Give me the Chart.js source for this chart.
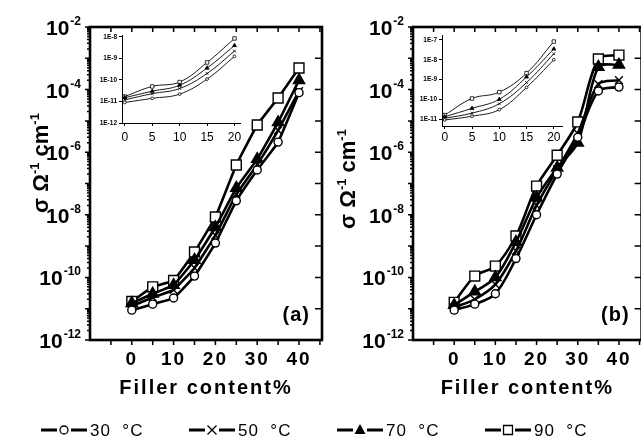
<!DOCTYPE html>
<html>
<head>
<meta charset="utf-8">
<script src="https://cdn.jsdelivr.net/npm/chart.js@4.4.0/dist/chart.umd.min.js"></script>
<style>
html, body { margin: 0; padding: 0; background: #fff; overflow: hidden; width: 641px; height: 439px; }
canvas { position: absolute; }
</style>
</head>
<body>
<canvas id="chartA" width="641" height="439" style="left:0;top:0"></canvas>
<canvas id="chartB" width="330" height="400" style="left:320px;top:0"></canvas>
<canvas id="insetA" width="156" height="120" style="left:92px;top:28px"></canvas>
<canvas id="insetB" width="160" height="122" style="left:412px;top:28px"></canvas>
<script>
const fillerContent = [0, 5, 10, 15, 20, 25, 30, 35, 40];
const xTickValues = [0, 10, 20, 30, 40];
const insetXTicks = [0, 5, 10, 15, 20];
const temperatureLabels = ['30 °C', '50 °C', '70 °C', '90 °C'];
const yLabelExponents = [-12, -10, -8, -6, -4, -2];
const insetAExponents = [-12, -11, -10, -9, -8];
const insetBExponents = [-11, -10, -9, -8, -7];

// panel (a) conductivity, S/cm
const sigmaA30 = [9e-12, 1.4e-11, 2.2e-11, 1.1e-10, 1.25e-9, 2.8e-8, 2.7e-7, 2.1e-6, 8e-5];
const sigmaA50 = [1.2e-11, 2.3e-11, 4e-11, 2e-10, 2.2e-9, 4.5e-8, 4e-7, 5e-6, 9e-5];
const sigmaA70 = [1.5e-11, 3e-11, 5.7e-11, 3.6e-10, 4e-9, 7.2e-8, 6e-7, 9e-6, 2e-4];
const sigmaA90 = [1.7e-11, 5e-11, 8e-11, 6.5e-10, 8.5e-9, 3.9e-7, 7.4e-6, 5.4e-5, 4.9e-4];

// panel (b)
const sigmaB30 = [9e-12, 1.4e-11, 3e-11, 4e-10, 1e-8, 2e-7, 3e-6, 9e-5, 1.2e-4];
const sigmaB50 = [1.1e-11, 2e-11, 6e-11, 7e-10, 2e-8, 2.8e-7, 4e-6, 1.5e-4, 2e-4];
const sigmaB70 = [1.3e-11, 3.5e-11, 1e-10, 1.35e-9, 3.5e-8, 3.2e-7, 2e-6, 5.3e-4, 6.2e-4];
const sigmaB90 = [1.6e-11, 1.1e-10, 2.3e-10, 2.1e-9, 8.3e-8, 8e-7, 9.3e-6, 9.5e-4, 1.27e-3];

const FONT = '"Liberation Sans", Arial, sans-serif';
Chart.defaults.font.family = FONT;
Chart.defaults.color = '#000';

const seriesStyle = [
    { pointStyle: 'circle', radius: 4, fill: '#fff' },
    { pointStyle: 'crossRot', radius: 5.5, fill: '#fff' },
    { pointStyle: 'triangle', radius: 6.5, fill: '#000' },
    { pointStyle: 'rect', radius: 7, fill: '#fff' }
];

function makeDatasets(seriesList, count, inset, tension) {
    return seriesList.map((values, i) => {
        const st = seriesStyle[i];
        return {
            label: temperatureLabels[i],
            data: values.slice(0, count).map((v, j) => ({ x: fillerContent[j], y: v })),
            borderColor: '#000',
            borderWidth: inset ? 0.9 : 2.6,
            pointStyle: st.pointStyle,
            pointRadius: inset ? st.radius * 0.35 : st.radius,
            pointBackgroundColor: st.fill,
            pointBorderColor: '#000',
            pointBorderWidth: inset ? 0.8 : 1.4,
            tension: tension,
            fill: false
        };
    });
}

function drawRotatedTitle(ctx, cx, cy) {
    const big = 'bold 22px ' + FONT;
    const small = 'bold 13px ' + FONT;
    const pieces = [['σ Ω', big, 0], ['-1', small, -9], [' cm', big, 0], ['-1', small, -9]];
    let total = 0;
    pieces.forEach(p => { ctx.font = p[1]; total += ctx.measureText(p[0]).width; });
    ctx.save();
    ctx.translate(cx, cy);
    ctx.rotate(-Math.PI / 2);
    ctx.textAlign = 'left';
    ctx.textBaseline = 'alphabetic';
    let pos = -total / 2;
    pieces.forEach(p => {
        ctx.font = p[1];
        ctx.fillText(p[0], pos, p[2]);
        pos += ctx.measureText(p[0]).width;
    });
    ctx.restore();
}

const panelDecor = {
    id: 'panelDecor',
    beforeDraw(chart) {
        chart.ctx.letterSpacing = '2px';
    },
    afterDraw(chart, args, opts) {
        const { ctx, chartArea: a } = chart;
        const x = chart.scales.x, y = chart.scales.y;
        ctx.save();
        ctx.letterSpacing = '0px';
        ctx.strokeStyle = '#000';
        ctx.fillStyle = '#000';

        // tick marks
        ctx.lineWidth = 1.5;
        ctx.beginPath();
        for (let d = -12; d <= -2; d++) {
            const py = y.getPixelForValue(Math.pow(10, d));
            ctx.moveTo(a.left, py); ctx.lineTo(a.left - 5, py);
            ctx.moveTo(a.right, py); ctx.lineTo(a.right - 7, py);
            if (d < -2) {
                for (let m = 2; m <= 9; m++) {
                    const pm = y.getPixelForValue(m * Math.pow(10, d));
                    ctx.moveTo(a.left, pm); ctx.lineTo(a.left - 3, pm);
                }
            }
        }
        for (let v = -5; v <= 45; v += 5) {
            const px = x.getPixelForValue(v);
            ctx.moveTo(px, a.top); ctx.lineTo(px, a.top + 5);
            ctx.moveTo(px, a.bottom); ctx.lineTo(px, a.bottom + 5);
        }
        ctx.stroke();

        // frame
        ctx.lineWidth = 2.6;
        ctx.strokeRect(a.left, a.top, a.right - a.left, a.bottom - a.top);

        // y tick labels 10^n
        ctx.textAlign = 'right';
        ctx.textBaseline = 'alphabetic';
        yLabelExponents.forEach(e => {
            const py = y.getPixelForValue(Math.pow(10, e));
            const sup = String(e);
            ctx.font = 'bold 12px ' + FONT;
            const sw = ctx.measureText(sup).width;
            const rx = a.left - 9;
            ctx.fillText(sup, rx, py - 2);
            ctx.font = 'bold 21px ' + FONT;
            ctx.fillText('10', rx - sw - 1, py + 8);
        });

        drawRotatedTitle(ctx, opts.titleX, opts.titleY);

        // panel letter
        ctx.font = 'bold 20px ' + FONT;
        ctx.letterSpacing = '1px';
        ctx.textAlign = 'right';
        ctx.textBaseline = 'middle';
        ctx.fillText(opts.letter, a.right - 12, a.bottom - 25);
        ctx.restore();
    }
};

function drawMarker(ctx, style, cx, cy) {
    ctx.lineWidth = 1.3;
    ctx.beginPath();
    if (style === 'circle') {
        ctx.arc(cx, cy, 4, 0, Math.PI * 2);
        ctx.fillStyle = '#fff'; ctx.fill(); ctx.stroke();
    } else if (style === 'crossRot') {
        ctx.moveTo(cx - 4.5, cy - 4.5); ctx.lineTo(cx + 4.5, cy + 4.5);
        ctx.moveTo(cx + 4.5, cy - 4.5); ctx.lineTo(cx - 4.5, cy + 4.5);
        ctx.stroke();
    } else if (style === 'triangle') {
        ctx.moveTo(cx, cy - 6); ctx.lineTo(cx + 5.5, cy + 4); ctx.lineTo(cx - 5.5, cy + 4);
        ctx.closePath();
        ctx.fillStyle = '#000'; ctx.fill();
    } else {
        ctx.rect(cx - 4.5, cy - 4.5, 9, 9);
        ctx.fillStyle = '#fff'; ctx.fill(); ctx.stroke();
    }
}

const tempLegend = {
    id: 'tempLegend',
    afterDraw(chart, args, opts) {
        const ctx = chart.ctx;
        ctx.save();
        ctx.strokeStyle = '#000';
        const y0 = opts.y;
        chart.data.datasets.forEach((ds, i) => {
            const x0 = opts.left + i * opts.pitch;
            ctx.lineWidth = 3;
            ctx.beginPath();
            ctx.moveTo(x0, y0); ctx.lineTo(x0 + 16, y0);
            ctx.moveTo(x0 + 30, y0); ctx.lineTo(x0 + 46, y0);
            ctx.stroke();
            drawMarker(ctx, ds.pointStyle, x0 + 23, y0);
            ctx.fillStyle = '#000';
            ctx.font = '17px ' + FONT;
            ctx.letterSpacing = '1px';
            ctx.textAlign = 'left';
            ctx.textBaseline = 'middle';
            ctx.fillText(ds.label.replace(' ', '  '), x0 + 49, y0 + 1);
            ctx.letterSpacing = '0px';
        });
        ctx.restore();
    }
};

function mainOptions(yWidth, padding, decor, legend) {
    return {
        responsive: false,
        animation: false,
        events: [],
        layout: { padding: padding },
        plugins: {
            legend: { display: false },
            tooltip: { enabled: false },
            panelDecor: decor,
            tempLegend: legend
        },
        scales: {
            x: {
                type: 'linear',
                min: -10,
                max: 45.5,
                afterBuildTicks: s => { s.ticks = xTickValues.map(v => ({ value: v })); },
                afterFit: s => { s.height = 60; },
                grid: { display: false, drawTicks: false },
                border: { display: false },
                ticks: { padding: 8, font: { size: 19, weight: 'bold' }, color: '#000', autoSkip: false, maxRotation: 0 },
                title: { display: true, text: 'Filler content%', font: { size: 20, weight: 'bold' }, color: '#000', padding: 0 }
            },
            y: {
                type: 'logarithmic',
                min: 1e-12,
                max: 1e-2,
                afterFit: s => { s.width = yWidth; },
                grid: { display: false, drawTicks: false },
                border: { display: false },
                ticks: { display: false }
            }
        }
    };
}

function insetOptions(yMin, yMax, xMax, exps, padRight, xHeight, xPad) {
    return {
        responsive: false,
        animation: false,
        events: [],
        layout: { padding: { left: 0, right: padRight, top: 7, bottom: 0 } },
        plugins: { legend: { display: false }, tooltip: { enabled: false } },
        scales: {
            x: {
                type: 'linear',
                min: -0.5,
                max: xMax,
                afterBuildTicks: s => { s.ticks = insetXTicks.map(v => ({ value: v })); },
                afterFit: s => { s.height = xHeight; },
                grid: { display: true, drawOnChartArea: false, drawTicks: true, tickLength: 3, color: '#000', lineWidth: 1 },
                border: { display: true, color: '#000', width: 1 },
                ticks: { padding: xPad, font: { size: 12 }, color: '#000', autoSkip: false, maxRotation: 0 }
            },
            y: {
                type: 'logarithmic',
                min: yMin,
                max: yMax,
                afterBuildTicks: s => { s.ticks = exps.map(e => ({ value: Math.pow(10, e) })); },
                afterFit: s => { s.width = 30; },
                grid: { display: true, drawOnChartArea: false, drawTicks: true, tickLength: 3, color: '#000', lineWidth: 1 },
                border: { display: true, color: '#000', width: 1 },
                ticks: {
                    padding: 2,
                    font: { size: 6.5, weight: 'bold' },
                    color: '#000',
                    autoSkip: false,
                    callback: v => '1E' + Math.round(Math.log10(v))
                }
            }
        }
    };
}

const seriesA = [sigmaA30, sigmaA50, sigmaA70, sigmaA90];
const seriesB = [sigmaB30, sigmaB50, sigmaB70, sigmaB90];

new Chart(document.getElementById('chartA'), {
    type: 'line',
    data: { datasets: makeDatasets(seriesA, fillerContent.length, false, 0.1) },
    options: mainOptions(90, { left: 0, right: 319, top: 27, bottom: 39 },
        { titleX: 48, titleY: 163, letter: '(a)' },
        { left: 41, pitch: 148, y: 430 }),
    plugins: [panelDecor, tempLegend]
});

new Chart(document.getElementById('chartB'), {
    type: 'line',
    data: { datasets: makeDatasets(seriesB, fillerContent.length, false, 0.3) },
    options: mainOptions(93, { left: 0, right: 6, top: 27, bottom: 0 },
        { titleX: 35, titleY: 179, letter: '(b)' }, false),
    plugins: [panelDecor]
});

new Chart(document.getElementById('insetA'), {
    type: 'line',
    data: { datasets: makeDatasets(seriesA, 5, true, 0.4) },
    options: insetOptions(1e-12, 1.23e-8, 21, insetAExponents, 8, 25, 4)
});

new Chart(document.getElementById('insetB'), {
    type: 'line',
    data: { datasets: makeDatasets(seriesB, 5, true, 0.4) },
    options: insetOptions(4.47e-12, 1.78e-7, 21.5, insetBExponents, 10, 24, 1)
});
</script>
</body>
</html>
